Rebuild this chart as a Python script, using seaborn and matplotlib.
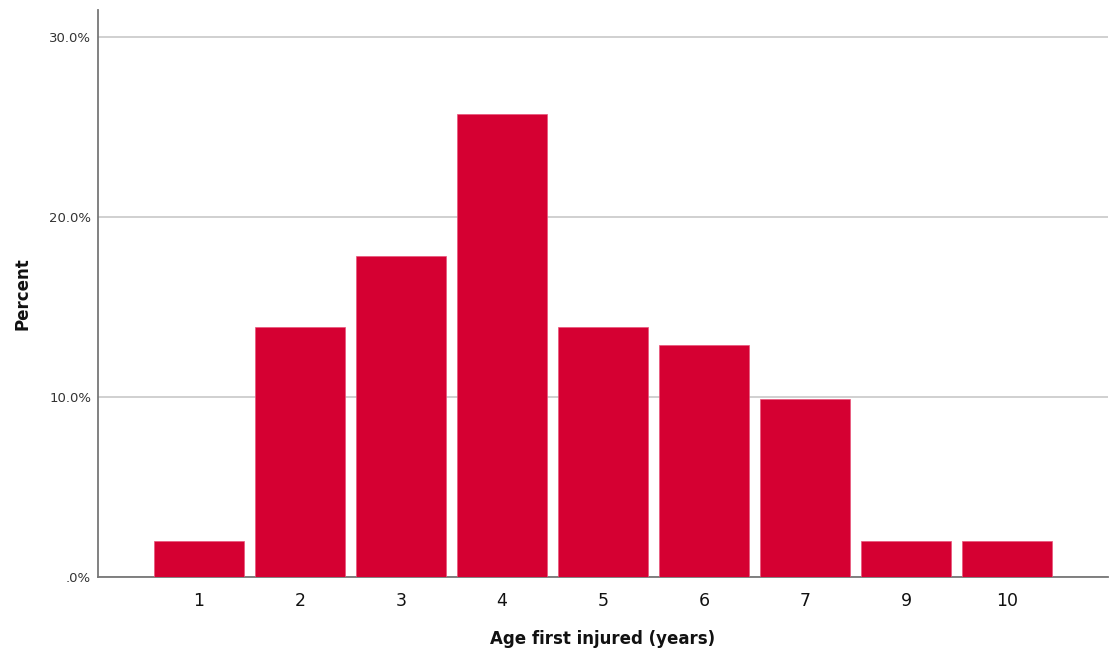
import matplotlib
matplotlib.use("Agg")
import matplotlib.pyplot as plt
import matplotlib.ticker as ticker
import pandas as pd
import seaborn as sns

# Age first injured, percent of cases (n=101)
ages = ["1", "2", "3", "4", "5", "6", "7", "9", "10"]
percents = [1.98, 13.86, 17.82, 25.74, 13.86, 12.87, 9.90, 1.98, 1.98]

df = pd.DataFrame({"age": ages, "percent": percents})

sns.set_style("white")
plt.rcParams["font.family"] = ["DejaVu Sans"]

fig = plt.figure(figsize=(11.09, 6.59), dpi=100)
ax = fig.add_axes([0.0884, 0.1244, 0.9107, 0.8606])

sns.barplot(data=df, x="age", y="percent", color="#D50032", saturation=1,
            width=0.9, edgecolor="#E8557A", linewidth=0.5, ax=ax, zorder=3)

ax.set_xlim(-1, 9)
ax.set_ylim(0, 31.5)
ax.set_yticks([0, 10, 20, 30])
ax.yaxis.set_major_formatter(ticker.FuncFormatter(
    lambda v, _: ".0%" if v == 0 else f"{v:.1f}%"))
ax.grid(axis="y", color="#C8C8C8", linewidth=1.2, zorder=0)
ax.tick_params(axis="y", length=0, labelsize=9.5, colors="#333333", pad=5)
ax.tick_params(axis="x", length=0, labelsize=12.5, colors="#111111", pad=11)

for side in ["top", "right"]:
    ax.spines[side].set_visible(False)
for side in ["left", "bottom"]:
    ax.spines[side].set_color("#777777")
    ax.spines[side].set_linewidth(1.3)

ax.set_xlabel("Age first injured (years)", fontsize=12, fontweight="bold",
              labelpad=14, color="#111111")
ax.set_ylabel("Percent", fontsize=12, fontweight="bold", labelpad=13,
              color="#111111")

fig.savefig("out.png", dpi=100)
